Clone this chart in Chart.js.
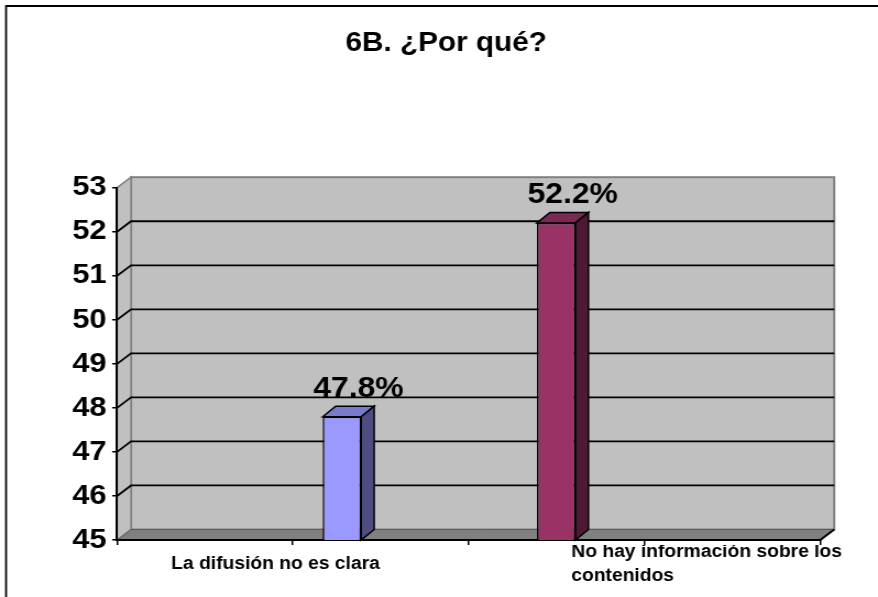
<!DOCTYPE html>
<html>
<head>
<meta charset="utf-8">
<script src="https://cdn.jsdelivr.net/npm/chart.js@4"></script>
<style>
  html, body { margin: 0; padding: 0; background: #fff; overflow: hidden; }
</style>
</head>
<body>
<!-- the reference is a bit wider than tall, so the canvas is stretched 1.1x -->
<canvas id="c" width="798" height="597" style="display:block;width:878px;height:597px"></canvas>
<script>
const categories = [['La difusión no es clara'], ['No hay información sobre los', 'contenidos']];
const values = [47.8, 52.2];
const yMin = 45;
const yMax = 53;
const barColors = ['#9999FF', '#993366'];
const sideColors = ['#4D4D80', '#4D1A33'];
const topColors = ['#7A7ACC', '#7A2952'];

const FONT = "'Liberation Sans', Arial, sans-serif";
const WALL_DX = 12.7, WALL_DY = 10.5;
const BAR_DX = 11.8, BAR_DY = 10.5;

function poly(ctx, pts, fill, stroke, lw) {
  ctx.beginPath();
  ctx.moveTo(pts[0][0], pts[0][1]);
  for (let i = 1; i < pts.length; i++) ctx.lineTo(pts[i][0], pts[i][1]);
  ctx.closePath();
  if (fill) { ctx.fillStyle = fill; ctx.fill(); }
  if (stroke) { ctx.strokeStyle = stroke; ctx.lineWidth = lw || 1; ctx.stroke(); }
}

// walls, floor and gridlines behind the bars
const wall3d = {
  id: 'wall3d',
  beforeDraw(chart) {
    const {ctx, chartArea: a, scales: {y}} = chart;
    const dx = WALL_DX, dy = WALL_DY;
    ctx.save();
    ctx.fillStyle = '#000';
    ctx.fillRect(5.5, 5, chart.width, 2);
    ctx.fillRect(4.6, 5, 1.8, chart.height);

    ctx.fillStyle = '#C0C0C0';
    ctx.fillRect(a.left + dx, a.top - dy, a.width, a.height);
    ctx.strokeStyle = '#808080';
    ctx.lineWidth = 2;
    ctx.strokeRect(a.left + dx, a.top - dy, a.width, a.height);

    poly(ctx, [[a.left, a.top], [a.left + dx, a.top - dy], [a.left + dx, a.bottom - dy], [a.left, a.bottom]], '#C0C0C0', '#808080', 1.5);
    poly(ctx, [[a.left, a.bottom], [a.right, a.bottom], [a.right + dx, a.bottom - dy], [a.left + dx, a.bottom - dy]], '#808080', '#5a5a5a', 1);

    ctx.strokeStyle = '#000';
    ctx.lineWidth = 2;
    ctx.beginPath();
    ctx.moveTo(a.right, a.bottom);
    ctx.lineTo(a.right + dx, a.bottom - dy);
    ctx.stroke();

    ctx.lineWidth = 1.8;
    y.ticks.forEach(t => {
      if (t.value <= yMin || t.value >= yMax) return;
      const py = y.getPixelForValue(t.value);
      ctx.beginPath();
      ctx.moveTo(a.left, py);
      ctx.lineTo(a.left + dx, py - dy);
      ctx.lineTo(a.right + dx, py - dy);
      ctx.stroke();
    });
    ctx.restore();
  }
};

// top and side faces of each bar, plus the value labels
const bar3d = {
  id: 'bar3d',
  afterDatasetsDraw(chart) {
    const ctx = chart.ctx;
    const bottom = chart.chartArea.bottom;
    ctx.save();
    chart.getSortedVisibleDatasetMetas().forEach(meta => {
      const k = meta.index;
      meta.data.forEach((bar, j) => {
        const v = chart.data.datasets[k].data[j];
        if (v == null) return;
        const {x, y, base, width} = bar.getProps(['x', 'y', 'base', 'width'], true);
        const b = Math.min(base, bottom);
        const l = x - width / 2, r = x + width / 2;
        poly(ctx, [[l, y], [l + BAR_DX, y - BAR_DY], [r + BAR_DX, y - BAR_DY], [r, y]], topColors[k], '#000', 1.5);
        poly(ctx, [[r, y], [r + BAR_DX, y - BAR_DY], [r + BAR_DX, b - BAR_DY], [r, b]], sideColors[k], '#000', 1.5);
        ctx.fillStyle = '#000';
        ctx.font = 'bold 29px ' + FONT;
        ctx.textAlign = 'center';
        ctx.textBaseline = 'alphabetic';
        ctx.fillText(v.toFixed(1) + '%', x + 15, y - BAR_DY - 9);
      });
    });
    ctx.restore();
  }
};

const datasets = values.map((v, i) => ({
  label: categories[i].join(' '),
  data: categories.map((c, j) => (j === i ? v : null)),
  backgroundColor: barColors[i],
  borderColor: '#000',
  borderWidth: 1.5,
  borderSkipped: false,
  barPercentage: 1,
  categoryPercentage: i === 0 ? 0.558 : 1.004,
  maxBarThickness: 35,
  order: values.length - i
}));

new Chart(document.getElementById('c'), {
  type: 'bar',
  data: { labels: categories, datasets: datasets },
  options: {
    responsive: false,
    animation: false,
    devicePixelRatio: 1,
    layout: { padding: { left: 13, right: 0, top: 0, bottom: 3 } },
    plugins: {
      legend: { display: false },
      tooltip: { enabled: false },
      title: {
        display: true,
        text: '6B. ¿Por qué?',
        color: '#000',
        font: { family: FONT, size: 27, weight: 'bold' },
        padding: { top: 27.8, bottom: 127.5 }
      }
    },
    scales: {
      x: { type: 'category', display: false },
      // category names, left-aligned the way the original places them
      xl: {
        type: 'linear',
        position: 'bottom',
        weight: 1,
        offset: false,
        min: 0,
        max: 1,
        grid: { display: false, offset: false },
        border: { display: false },
        afterBuildTicks(s) { s.ticks = [0.077, 0.646].map(v => ({ value: v })); },
        ticks: {
          callback: (v, i) => categories[i],
          color: '#000',
          font: { family: FONT, size: 17.5, weight: 'bold', lineHeight: 1.37 },
          align: 'start',
          crossAlign: 'center',
          padding: -1,
          maxRotation: 0,
          autoSkip: false
        },
        afterFit(s) { s.paddingLeft = 0; s.paddingRight = 0; s.height = 597 - 545 - 3; }
      },
      x2: {
        type: 'linear',
        position: 'bottom',
        weight: 0,
        offset: false,
        min: 0,
        max: categories.length * 2,
        ticks: { display: false, stepSize: 1 },
        grid: { offset: false, drawOnChartArea: false, tickLength: 5, color: '#000', lineWidth: 1.5 },
        border: { color: '#000', width: 2 }
      },
      y: {
        type: 'linear',
        min: yMin,
        max: yMax,
        ticks: { stepSize: 1, color: '#000', padding: 5, font: { family: FONT, size: 28, weight: 'bold' } },
        grid: { drawOnChartArea: false, tickLength: 4.5, color: '#000', lineWidth: 1.5 },
        border: { color: '#000', width: 2 },
        afterFit(s) { s.width = 93.4; }
      },
      y2: {
        type: 'linear',
        position: 'right',
        grid: { display: false },
        ticks: { display: false },
        border: { display: false },
        afterFit(s) { s.width = 52.5; }
      }
    }
  },
  plugins: [wall3d, bar3d]
});
</script>
</body>
</html>
